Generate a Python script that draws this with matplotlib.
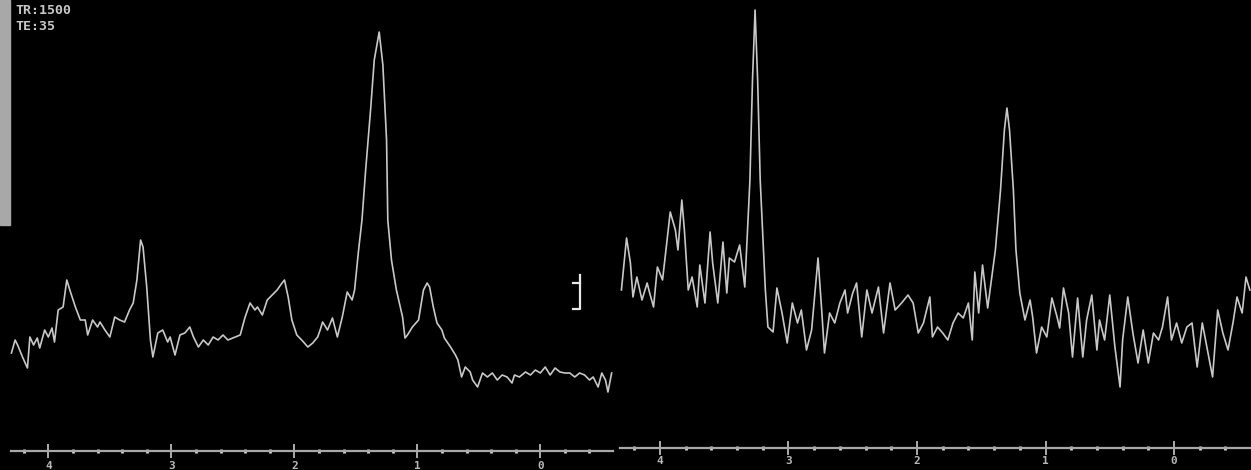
import numpy as np
from matplotlib import pyplot as plt
from matplotlib.patches import Rectangle

# left spectrum (ppm, amplitude)
left_ppm = [4.30, 4.27, 4.25, 4.21, 4.17, 4.15, 4.12, 4.09, 4.07, 4.03, 4.00, 3.97, 3.95,
            3.92, 3.88, 3.85, 3.82, 3.78, 3.74, 3.70, 3.68, 3.64, 3.60, 3.58, 3.54, 3.50,
            3.46, 3.42, 3.38, 3.34, 3.31, 3.28, 3.25, 3.23, 3.20, 3.17, 3.15, 3.11, 3.07,
            3.03, 3.01, 2.97, 2.93, 2.89, 2.85, 2.82, 2.78, 2.74, 2.70, 2.66, 2.62, 2.58,
            2.54, 2.50, 2.44, 2.40, 2.36, 2.32, 2.30, 2.26, 2.22, 2.18, 2.14, 2.10, 2.08,
            2.05, 2.02, 1.98, 1.94, 1.89, 1.85, 1.81, 1.79, 1.77, 1.73, 1.69, 1.65, 1.61,
            1.57, 1.53, 1.51, 1.48, 1.45, 1.42, 1.38, 1.35, 1.31, 1.28, 1.25, 1.24, 1.21,
            1.17, 1.12, 1.10, 1.08, 1.04, 0.99, 0.95, 0.92, 0.90, 0.87, 0.84, 0.80, 0.78,
            0.73, 0.69, 0.67, 0.64, 0.61, 0.57, 0.55, 0.51, 0.47, 0.43, 0.39, 0.35, 0.31,
            0.27, 0.23, 0.21, 0.17, 0.12, 0.08, 0.04, 0.00, -0.04, -0.08, -0.12, -0.16,
            -0.20, -0.24, -0.28, -0.32, -0.36, -0.40, -0.43, -0.47, -0.50, -0.53, -0.55,
            -0.58]
left_amp = [98, 111, 106, 94, 83, 114, 106, 113, 103, 121, 114, 123, 109,
            141, 144, 171, 159, 144, 131, 131, 116, 131, 124, 129, 121, 114,
            134, 131, 129, 141, 148, 171, 211, 204, 164, 111, 94, 118, 121,
            109, 114, 96, 116, 118, 124, 114, 104, 111, 106, 114, 111, 116,
            111, 113, 116, 134, 148, 141, 144, 136, 151, 156, 161, 168, 171,
            154, 131, 116, 111, 104, 108, 114, 121, 129, 121, 133, 114, 134,
            159, 151, 161, 198, 231, 281, 341, 391, 419, 386, 311, 231, 191,
            161, 134, 113, 116, 124, 131, 161, 168, 164, 144, 128, 121, 113,
            104, 96, 91, 74, 84, 79, 71, 64, 78, 74, 78, 71, 76,
            74, 68, 76, 74, 79, 76, 81, 78, 84, 76, 83, 79,
            78, 78, 74, 78, 76, 71, 74, 64, 78, 71, 59,
            78]

# right spectrum (ppm, amplitude)
right_ppm = [4.30, 4.26, 4.23, 4.21, 4.18, 4.14, 4.10, 4.08, 4.05, 4.02, 3.98, 3.96, 3.92,
             3.88, 3.86, 3.83, 3.81, 3.78, 3.75, 3.71, 3.69, 3.65, 3.61, 3.59, 3.55, 3.51,
             3.48, 3.46, 3.42, 3.38, 3.34, 3.30, 3.28, 3.26, 3.24, 3.22, 3.18, 3.16, 3.12,
             3.09, 3.05, 3.01, 2.97, 2.93, 2.90, 2.86, 2.82, 2.77, 2.74, 2.72, 2.68, 2.64,
             2.60, 2.56, 2.54, 2.50, 2.47, 2.43, 2.39, 2.35, 2.30, 2.26, 2.21, 2.17, 2.12,
             2.07, 2.03, 1.99, 1.95, 1.90, 1.88, 1.84, 1.80, 1.76, 1.72, 1.68, 1.64, 1.60,
             1.57, 1.55, 1.52, 1.49, 1.45, 1.39, 1.35, 1.32, 1.30, 1.28, 1.25, 1.23, 1.20,
             1.16, 1.12, 1.10, 1.07, 1.03, 0.99, 0.95, 0.91, 0.89, 0.86, 0.82, 0.79, 0.75,
             0.71, 0.68, 0.64, 0.60, 0.58, 0.54, 0.50, 0.46, 0.42, 0.40, 0.36, 0.32, 0.28,
             0.24, 0.20, 0.16, 0.12, 0.09, 0.05, 0.02, -0.02, -0.06, -0.10, -0.14, -0.18,
             -0.22, -0.26, -0.30, -0.34, -0.38, -0.42, -0.46, -0.49, -0.53, -0.56, -0.59]
right_amp = [158, 210, 185, 151, 171, 148, 165, 155, 141, 181, 168, 191, 236,
             218, 198, 248, 218, 158, 171, 141, 183, 145, 216, 185, 145, 206,
             155, 190, 186, 203, 161, 268, 368, 438, 368, 268, 158, 121, 116,
             160, 135, 105, 145, 125, 138, 98, 118, 190, 135, 95, 135, 125,
             145, 158, 135, 155, 165, 111, 158, 135, 161, 115, 165, 138, 145,
             153, 145, 115, 125, 151, 111, 121, 115, 108, 125, 135, 130, 145,
             108, 176, 135, 183, 140, 198, 258, 318, 340, 318, 258, 198, 155,
             128, 148, 131, 95, 121, 111, 150, 131, 120, 160, 135, 91, 150,
             91, 128, 153, 98, 128, 108, 153, 101, 61, 108, 151, 115, 85,
             118, 85, 115, 108, 121, 151, 108, 125, 105, 121, 125, 81,
             125, 98, 71, 138, 115, 98, 126, 151, 135, 171, 158]

major_ticks = [4, 3, 2, 1, 0]
tick_labels = ["4", "3", "2", "1", "0"]
header = ["TR:1500", "TE:35"]
# scale bracket: ppm, lower/upper amplitude
bracket_ppm = (-0.32, -0.265)
bracket_amp = (142, 168, 176)

W, H = 1251, 470
fig = plt.figure(figsize=(W / 100, H / 100), dpi=100, facecolor="black")

line_col = "#c8c8c8"
axis_col = "#a8a8a8"


def make_panel(rect, xlim, ylim, ppm, amp, bounds, label_pad):
    ax = fig.add_axes(rect)
    ax.set_facecolor("black")
    ax.plot(ppm, amp, color=line_col, lw=1.2)
    ax.set_xlim(*xlim)
    ax.set_ylim(*ylim)
    for s in ("top", "left", "right"):
        ax.spines[s].set_visible(False)
    sp = ax.spines["bottom"]
    sp.set_position(("data", 0))
    sp.set_bounds(*bounds)
    sp.set_color(axis_col)
    sp.set_linewidth(1.6)
    ax.set_yticks([])
    ax.set_xticks(major_ticks)
    ax.set_xticklabels(tick_labels, family="DejaVu Sans Mono", fontsize=8,
                       color="#b8b8b8", fontweight="bold")
    ax.set_xticks(np.arange(-0.4, 4.3, 0.2), minor=True)
    ax.tick_params(axis="x", which="major", direction="inout", length=10,
                   width=1.2, color="#c8c8c8", pad=label_pad)
    ax.tick_params(axis="x", which="minor", direction="inout", length=3,
                   width=2, color="#d8d8d8")
    return ax


left = make_panel([0, 0, 620 / W, 1], (4.393, -0.648), (-19, 451),
                  left_ppm, left_amp, (4.30, -0.59), 2)
right = make_panel([620 / W, 0, (W - 620) / W, 1], (4.311, -0.599), (-22, 448),
                   right_ppm, right_amp, (4.311, -0.599), 1)

# scale bracket on the left panel
left.plot([bracket_ppm[1], bracket_ppm[0], bracket_ppm[0], bracket_ppm[1]],
          [bracket_amp[1], bracket_amp[1], bracket_amp[0], bracket_amp[0]],
          color="#e8e8e8", lw=1.6)
left.plot([bracket_ppm[0], bracket_ppm[0]], [bracket_amp[1], bracket_amp[2]],
          color="#e8e8e8", lw=1.6)

# header text and grey strip
fig.text(15 / W, 1 - 11 / H, header[0], family="DejaVu Sans Mono", fontsize=9.5,
         fontweight="bold", color="#c8c8c8", va="center")
fig.text(15 / W, 1 - 27 / H, header[1], family="DejaVu Sans Mono", fontsize=9.5,
         fontweight="bold", color="#c8c8c8", va="center")
fig.patches.append(Rectangle((0, 1 - 225 / H), 10 / W, 225 / H,
                             transform=fig.transFigure, color="#a8a8a8"))

fig.savefig("out.png", dpi=100, facecolor="black")
